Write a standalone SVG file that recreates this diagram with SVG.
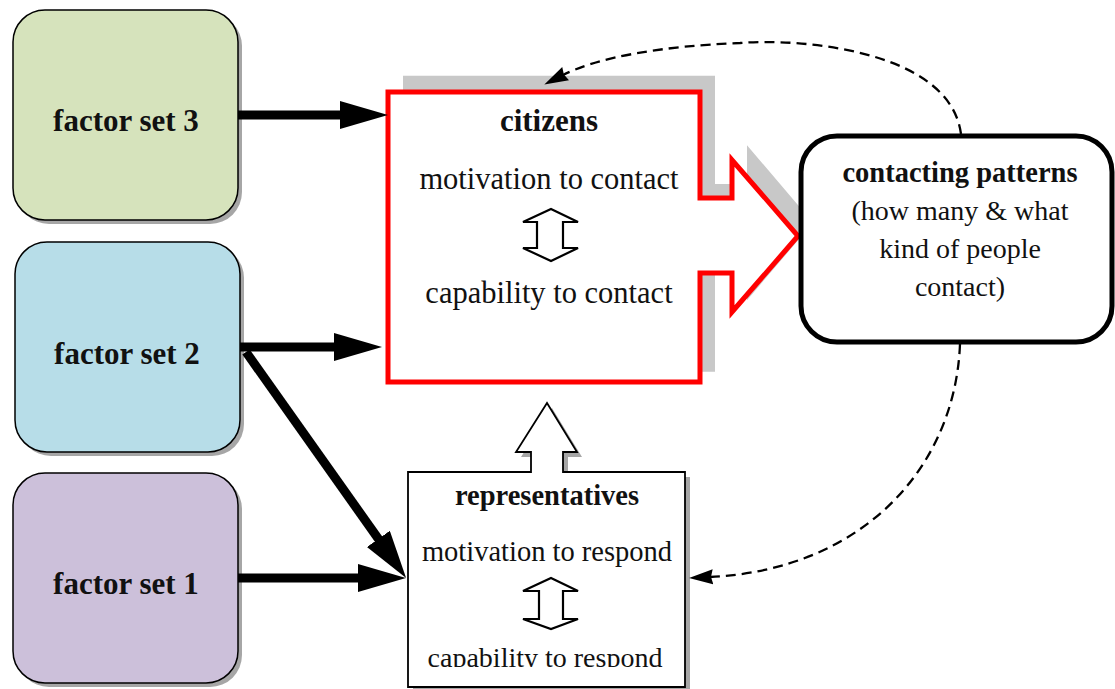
<svg xmlns="http://www.w3.org/2000/svg" width="1115" height="689" viewBox="0 0 1115 689">
<style>
text{font-family:"Liberation Serif","Times New Roman",serif;fill:#111;text-anchor:middle}
.b{font-weight:bold}
.fbox{stroke:#000;stroke-width:1.5}
.shadow{fill:#a6a6a6}
.thick{stroke:#000;stroke-width:9;fill:none}
.dash{stroke:#000;stroke-width:2.3;fill:none;stroke-dasharray:10 6}
.dbl{fill:#fff;stroke:#000;stroke-width:2.2;stroke-linejoin:miter}
</style>
<defs>
<marker id="big" markerUnits="userSpaceOnUse" markerWidth="50" markerHeight="30" refX="8" refY="14" orient="auto" viewBox="0 0 50 30">
<path d="M0,0 L48,14 L0,28 Z" fill="#000"/>
</marker>
<marker id="small" markerUnits="userSpaceOnUse" markerWidth="26" markerHeight="20" refX="3" refY="8" orient="auto" viewBox="0 0 26 20">
<path d="M0,0.5 L24,8 L0,15.5 L2,8 Z" fill="#000"/>
</marker>
<clipPath id="repclip"><rect x="408" y="400" width="280" height="267"/></clipPath>
</defs>

<g id="factor3">
<rect class="shadow" x="17" y="14" width="225" height="210" rx="32"/>
<rect class="fbox" x="13" y="10" width="225" height="210" rx="32" fill="#d6e3bc"/>
<text class="b" x="126" y="131" font-size="31">factor set 3</text>
</g>
<g id="factor2">
<rect class="shadow" x="19" y="246" width="225" height="210" rx="32"/>
<rect class="fbox" x="15" y="242" width="225" height="210" rx="32" fill="#b7dde8"/>
<text class="b" x="127" y="364" font-size="31">factor set 2</text>
</g>
<g id="factor1">
<rect class="shadow" x="17" y="477" width="225" height="210" rx="32"/>
<rect class="fbox" x="13" y="473" width="225" height="210" rx="32" fill="#ccc0da"/>
<text class="b" x="126" y="594" font-size="31">factor set 1</text>
</g>

<g id="citizens">
<path d="M388,92 H700 V198 H732 V160 L798,236 L732,312 V273 H700 V382 H388 Z" fill="#c8c8c8" transform="translate(15,-18) scale(1,1.02)"/>
<path d="M388,92 H700 V198 H732 V160 L798,236 L732,312 V273 H700 V382 H388 Z" fill="#fff" stroke="#ff0000" stroke-width="5"/>
<text class="b" x="549" y="131" font-size="31">citizens</text>
<text x="549" y="189" font-size="30.5">motivation to contact</text>
<path class="dbl" d="M551,209 L578,222 L563,222 L563,248 L578,248 L551,261 L523,248 L537,248 L537,222 L523,222 Z"/>
<text x="549" y="303" font-size="30.5">capability to contact</text>
</g>

<g id="representatives">
<path d="M408,472 H531 V452 H516 L547,403 L577,452 H563 V472 H685 V687 H408 Z" class="shadow" transform="translate(5,5)"/>
<path d="M408,472 H531 V452 H516 L547,403 L577,452 H563 V472 H685 V687 H408 Z" fill="#fff" stroke="#000" stroke-width="1.8"/>
<text class="b" x="547" y="505" font-size="28.5">representatives</text>
<text x="547" y="561" font-size="28.5">motivation to respond</text>
<path class="dbl" d="M551,578 L578,591 L563,591 L563,619 L578,619 L551,629 L523,619 L539,619 L539,591 L523,591 Z"/>
<text x="545" y="667" font-size="28" clip-path="url(#repclip)">capability to respond</text>
</g>

<g id="contacting">
<rect x="801" y="136" width="311" height="206" rx="36" fill="#fff" stroke="#000" stroke-width="5"/>
<text class="b" x="960" y="182" font-size="28.5">contacting patterns</text>
<text x="960" y="220" font-size="28">(how many &amp; what</text>
<text x="960" y="258" font-size="28">kind of people</text>
<text x="960" y="296" font-size="28">contact)</text>
</g>

<g id="connectors">
<line class="thick" x1="238" y1="115" x2="348" y2="115" marker-end="url(#big)"/>
<line class="thick" x1="240" y1="347" x2="342" y2="347" marker-end="url(#big)"/>
<line class="thick" x1="246" y1="352" x2="383" y2="545.4" marker-end="url(#big)"/>
<line class="thick" x1="238" y1="578" x2="366" y2="578" marker-end="url(#big)"/>
<path class="dash" d="M961,134 C950,50 800,38 740,43 C660,46 596,58 563,75" marker-end="url(#small)"/>
<path class="dash" d="M960,344 C955,470 860,570 710,577" marker-end="url(#small)"/>
</g>
</svg>
